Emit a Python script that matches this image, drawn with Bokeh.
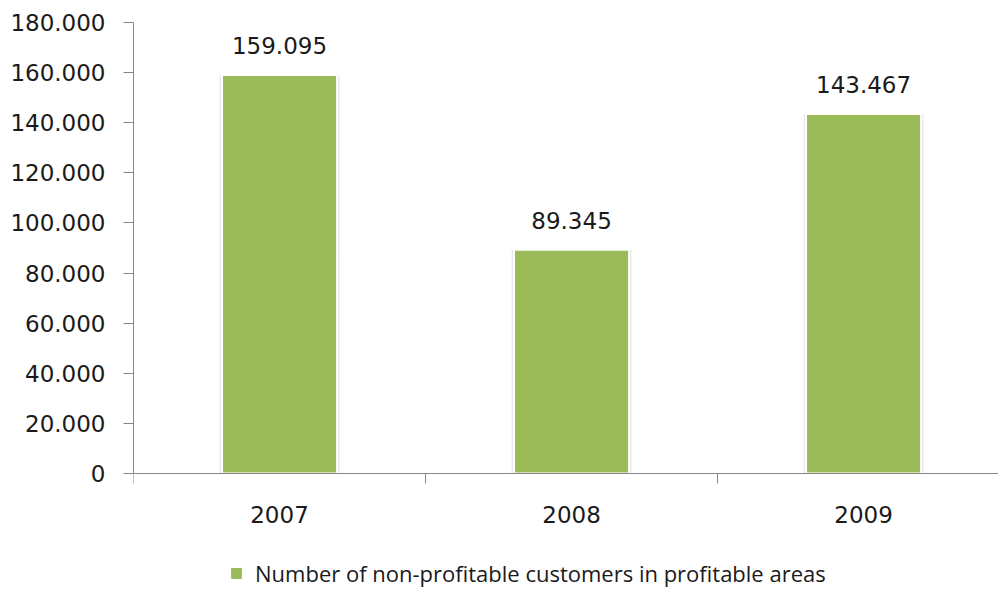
from bokeh.plotting import figure
from bokeh.models import Range1d, FixedTicker, ColumnDataSource, Legend, LegendItem, LabelSet, LinearAxis
from bokeh.core.properties import value
from bokeh.embed import file_html
from bokeh.resources import INLINE

years = ["2007", "2008", "2009"]
customers = [159095, 89345, 143467]
value_labels = ["159.095", "89.345", "143.467"]
y_ticks = [0, 20000, 40000, 60000, 80000, 100000, 120000, 140000, 160000, 180000]
y_tick_labels = ["0", "20.000", "40.000", "60.000", "80.000", "100.000", "120.000", "140.000", "160.000", "180.000"]
series_name = "Number of non-profitable customers in profitable areas"

xpos = [i + 0.5 for i in range(len(years))]
src = ColumnDataSource(dict(x=xpos, y=customers, lab=value_labels))

# frame spans the full lower area; the value axis covers 0..180000 over 451 px
y_max = 180000
y_min = -y_max * 117 / 451

p = figure(width=998, height=590, output_backend="svg", toolbar_location=None,
           x_range=Range1d(0, 2.962), y_range=Range1d(y_min, y_max),
           x_axis_location=None,
           min_border_left=133, min_border_top=22, min_border_right=0, min_border_bottom=0)
p.outline_line_color = None
p.xgrid.visible = False
p.ygrid.visible = False
p.background_fill_color = "white"
p.border_fill_color = "white"

shadow = p.vbar(x="x", top="y", width=0.41, bottom=0, source=src,
                fill_color="#d8d8d8", fill_alpha=0.6, line_color=None)
bars = p.vbar(x="x", top="y", width=0.394, bottom=0, source=src,
              fill_color="#9BBB59", line_color="white", line_width=2)

labels = LabelSet(x="x", y="y", text="lab", source=src, text_align="center",
                  text_baseline="alphabetic", y_offset=21, text_font=value("DejaVu Sans"),
                  text_font_size="23px", text_color="#1a1a1a")
p.add_layout(labels)

ya = p.yaxis[0]
ya.ticker = FixedTicker(ticks=y_ticks)
ya.bounds = (0, y_max)
ya.major_label_overrides = {t: l for t, l in zip(y_ticks, y_tick_labels)}
ya.major_tick_in = 0
ya.major_tick_out = 10
ya.minor_tick_out = 0
ya.minor_tick_in = 0
ya.axis_line_color = "#868686"
ya.major_tick_line_color = "#868686"
ya.major_label_text_font = "DejaVu Sans"
ya.major_label_text_font_size = "23px"
ya.major_label_text_color = "#1a1a1a"
ya.major_label_standoff = 18

xa = LinearAxis(fixed_location=0)
xa.ticker = FixedTicker(ticks=xpos, minor_ticks=[0, 1, 2, 3])
xa.major_label_overrides = {x: y for x, y in zip(xpos, years)}
xa.major_tick_in = 0
xa.major_tick_out = 0
xa.minor_tick_in = 0
xa.minor_tick_out = 10
xa.axis_line_color = "#868686"
xa.minor_tick_line_color = "#868686"
xa.major_label_text_font = "DejaVu Sans"
xa.major_label_text_font_size = "23px"
xa.major_label_text_color = "#1a1a1a"
xa.major_label_standoff = 22
p.add_layout(xa, "below")

legend = Legend(items=[LegendItem(label=series_name, renderers=[bars])],
                location=(95, 2), orientation="horizontal",
                label_text_font="Open Sans", label_text_font_size="22px",
                label_text_color="#1a1a1a", border_line_color=None,
                background_fill_alpha=0,
                glyph_width=16, glyph_height=16, label_standoff=11,
                padding=0, margin=0, spacing=0)
p.add_layout(legend)

open("out.html", "w").write(file_html(p, INLINE))
